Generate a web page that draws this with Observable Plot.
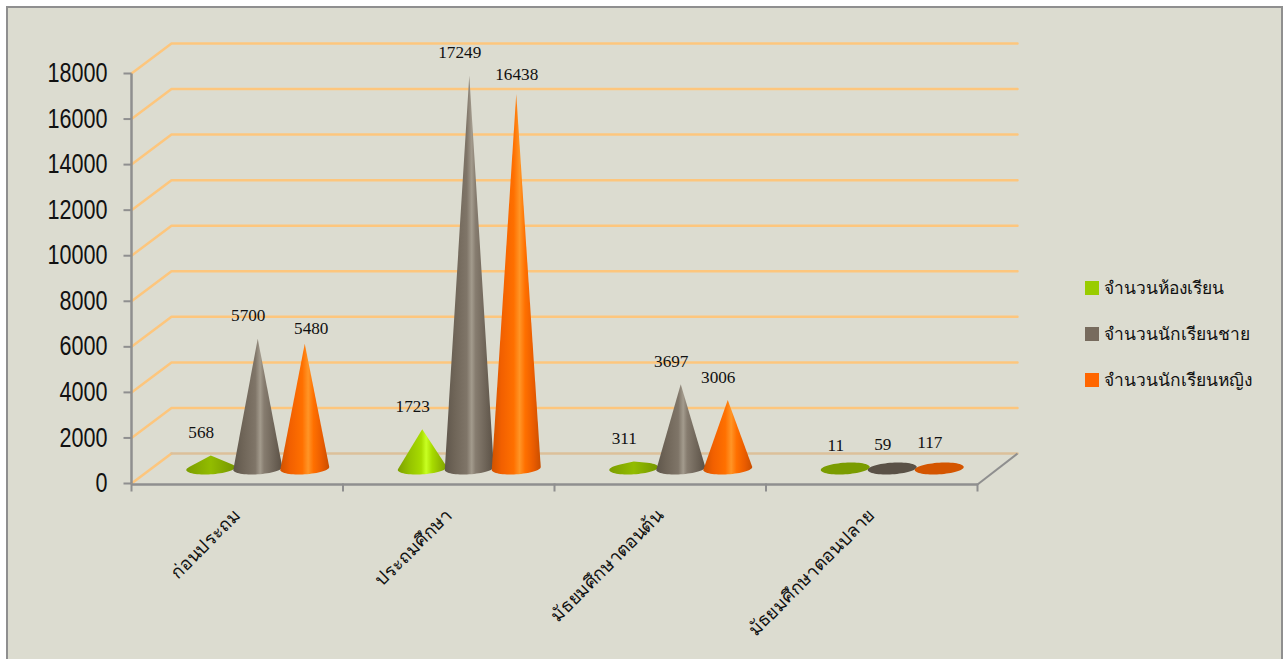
<!DOCTYPE html>
<html>
<head>
<meta charset="utf-8">
<style>
html,body{margin:0;padding:0;background:#fff;width:1284px;height:659px;overflow:hidden}
#box{position:absolute;left:6px;top:6px;width:1273px;height:660px;background:#dcdcd0;border:2px solid #8f8f8f}
#chart{position:absolute;left:0;top:0}
#legend{position:absolute;left:1085px;top:265px;font:17.4px "Noto Sans","DejaVu Sans",sans-serif;color:#111}
#legend div{height:46px;display:flex;align-items:center;white-space:nowrap}
#legend i{display:inline-block;width:14px;height:14px;margin-right:5px}
</style>
<script src="https://cdn.jsdelivr.net/npm/d3@7"></script>
<script src="https://cdn.jsdelivr.net/npm/@observablehq/plot@0.6"></script>
</head>
<body>
<div id="box"></div>
<div id="chart"></div>
<div id="legend"></div>
<script>
const categories = ["ก่อนประถม", "ประถมศึกษา", "มัธยมศึกษาตอนต้น", "มัธยมศึกษาตอนปลาย"];
const series = ["จำนวนห้องเรียน", "จำนวนนักเรียนชาย", "จำนวนนักเรียนหญิง"];
const rooms = [568, 1723, 311, 11];
const boys = [5700, 17249, 3697, 59];
const girls = [5480, 16438, 3006, 117];
const yTicks = [0, 2000, 4000, 6000, 8000, 10000, 12000, 14000, 16000, 18000];
const swatch = ["#99cc00", "#776b5d", "#ff6600"];
const flat = ["#7a9c00", "#5a5146", "#d45500"];

// pixel-to-data helpers for the pseudo-3D depth of the reference
const xRange = [131, 977], yRange = [483, 73];
const ux = 4 / (xRange[1] - xRange[0]);             // data units per px on x
const uy = 18000 / (yRange[0] - yRange[1]);         // data units per px on y
const depthX = 40 * ux, depthY = 30 * uy;
const coneLift = 15;                                // cones stand mid-depth on the floor

const rows = [];
[rooms, boys, girls].forEach((vals, s) => vals.forEach((v, c) => rows.push({c, s, v})));

const centerX = d => d.c + 0.5 + (d.s - 1) * 47 * ux + 20.5 * ux;
function cone(d) {
  const cx = centerX(d);
  const rx = 24.5 * ux, ry = 5.8 * uy, k = 0.06;
  const pts = d3.range(0, 64).map(i => {
    const t = i / 64 * 2 * Math.PI;
    const ex = Math.cos(t), ey = Math.sin(t);
    return [cx + rx * ex, ry * ey + k * 24.5 * uy * ex];
  });
  pts.push([cx, d.v]);
  const hull = d3.polygonHull(pts);
  hull.push(hull[0]);
  return hull.map(([x, y]) => ({x, y}));
}
const fillOf = (d) => d.v < 200 ? flat[d.s] : d.v < 700 && d.s === 0 ? "url(#gLow)" : ["url(#g0)", "url(#g1)", "url(#g2)"][d.s];
const cones = rows.map(d => ({d, pts: cone(d)}));

const gridPts = yTicks.flatMap(t => [
  {k: t, x: 0, y: t}, {k: t, x: depthX, y: t + depthY}, {k: t, x: 4 + depthX, y: t + depthY}
]);
const labelX = d => centerX(d) - 9.5 * ux;
const isShifted = d => d.s === 2 && d.c < 2;

const defs = () => {
  const ns = "http://www.w3.org/2000/svg";
  const d = document.createElementNS(ns, "defs");
  const mk = (id, stops) => {
    const g = document.createElementNS(ns, "linearGradient");
    g.setAttribute("id", id);
    stops.forEach(([o, c]) => {
      const s = document.createElementNS(ns, "stop");
      s.setAttribute("offset", o); s.setAttribute("stop-color", c); g.appendChild(s);
    });
    d.appendChild(g);
  };
  mk("g0", [[0, "#7ea000"], [0.25, "#96c400"], [0.48, "#a8dc00"], [0.58, "#c8ff22"], [0.7, "#a8dc00"], [1, "#7ea000"]]);
  mk("gLow", [[0, "#7c9e00"], [0.5, "#92bc00"], [1, "#759600"]]);
  mk("g1", [[0, "#5f564b"], [0.2, "#6f6558"], [0.45, "#7f7568"], [0.55, "#a39b8d"], [0.63, "#867c6f"], [0.85, "#6c6256"], [1, "#5a5045"]]);
  mk("g2", [[0, "#d05200"], [0.2, "#f26000"], [0.45, "#ff7000"], [0.57, "#ff9526"], [0.68, "#ff7000"], [0.85, "#ea5c00"], [1, "#c94e00"]]);
  return d;
};

const gridColor = "#fdc67d", axisColor = "#8f8f8f";
const serif = {fontFamily: "'Liberation Serif',serif", fontSize: 17.2, fill: "#111"};
const chart = Plot.plot({
  width: 1284, height: 659,
  marginTop: 0, marginRight: 0, marginBottom: 0, marginLeft: 0,
  style: {background: "transparent", overflow: "visible"},
  x: {type: "linear", domain: [0, 4], range: xRange, axis: null},
  y: {type: "linear", domain: [0, 18000], range: yRange, axis: null},
  marks: [
    defs,
    Plot.line(gridPts.filter(p => p.k > 0), {x: "x", y: "y", z: "k", stroke: gridColor, strokeWidth: 2.5}),
    Plot.line(gridPts.filter(p => p.k === 0).slice(0, 2), {x: "x", y: "y", stroke: gridColor, strokeWidth: 2.5}),
    Plot.line(gridPts.filter(p => p.k === 0).slice(1), {x: "x", y: "y", stroke: "#dcc09a", strokeWidth: 2.5}),
    // right floor edge
    Plot.link([0], {x1: 4, y1: -1 * uy, x2: 4 + depthX, y2: depthY, stroke: axisColor, strokeWidth: 2}),
    // axes
    Plot.link([0], {x1: 0, x2: 0, y1: 0, y2: 18000, stroke: axisColor, strokeWidth: 2.5}),
    Plot.link([0], {x1: 0, x2: 4, y1: -1 * uy, y2: -1 * uy, stroke: axisColor, strokeWidth: 2.5}),
    Plot.link(yTicks, {x1: -8 * ux, x2: 0, y1: d => d, y2: d => d, stroke: axisColor, strokeWidth: 2}),
    Plot.link([0, 1, 2, 3, 4], {x1: d => d, x2: d => d, y1: 0, y2: -8 * uy, stroke: axisColor, strokeWidth: 2}),
    // tick labels
    Plot.text(yTicks, {x: () => 0, y: d => d, text: d => String(d), textAnchor: "end", dx: -24, className: "ytick",
      fontFamily: "'Liberation Sans',sans-serif", fontSize: 27, fill: "#111"}),
    Plot.text(categories, {x: (d, i) => i + 0.5, y: () => 0, text: d => d, textAnchor: "end", rotate: -45, dx: 0, dy: 29,
      fontFamily: "'Noto Sans','DejaVu Sans',sans-serif", fontSize: 18.2, fill: "#111"}),
    // cones
    ...cones.map(({d, pts}) => Plot.line(pts, {x: "x", y: "y", dy: -coneLift, fill: fillOf(d), stroke: "none", curve: "linear"})),
    // value labels
    Plot.text(rows.filter(d => !isShifted(d)), {x: labelX, y: "v", text: d => String(d.v), dy: -coneLift - 23, ...serif}),
    Plot.text(rows.filter(d => d.c === 0 && d.s === 2), {x: labelX, y: "v", text: d => String(d.v), dx: 16, dy: -coneLift - 15, ...serif}),
    Plot.text(rows.filter(d => d.c === 1 && d.s === 2), {x: labelX, y: "v", text: d => String(d.v), dx: 10, dy: -coneLift - 20, ...serif})
  ]
});
// the reference's value-axis digits are horizontally condensed
chart.querySelectorAll(".ytick text").forEach(t => {
  t.setAttribute("textLength", t.textContent.length * 12);
  t.setAttribute("lengthAdjust", "spacingAndGlyphs");
});
document.getElementById("chart").appendChild(chart);
const legend = document.getElementById("legend");
series.forEach((s, i) => {
  const row = document.createElement("div");
  const sw = document.createElement("i");
  sw.style.background = swatch[i];
  row.appendChild(sw);
  row.appendChild(document.createTextNode(s));
  legend.appendChild(row);
});
</script>
</body>
</html>
